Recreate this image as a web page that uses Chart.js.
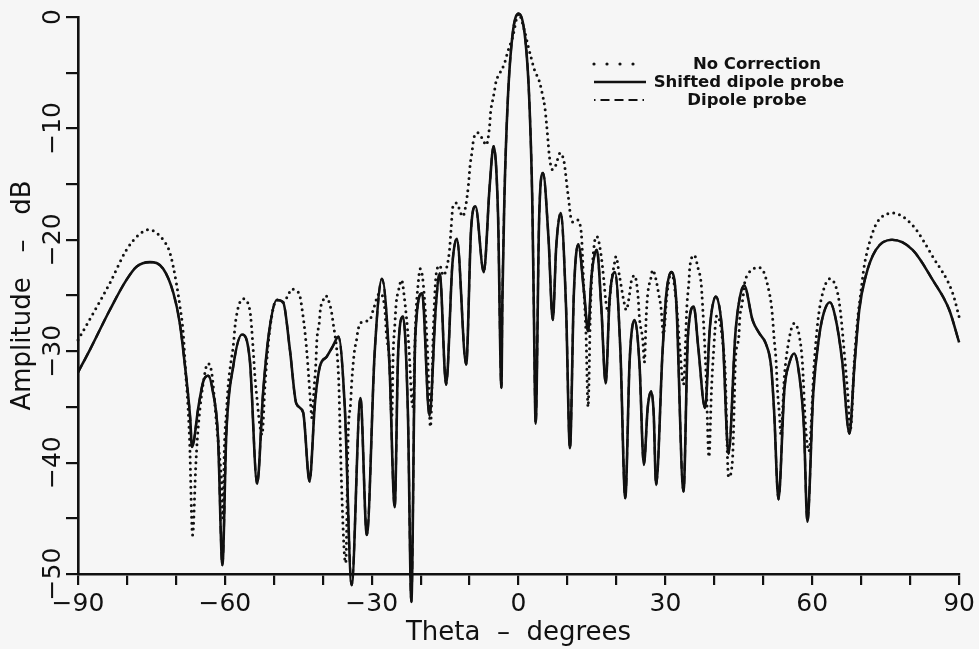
<!DOCTYPE html>
<html>
<head>
<meta charset="utf-8">
<script src="https://cdn.jsdelivr.net/npm/chart.js@4/dist/chart.umd.min.js"></script>
<style>
  html, body { margin: 0; padding: 0; background: #f6f6f6; }
  #wrap { width: 979px; height: 649px; }
</style>
</head>
<body>
<div id="wrap"><canvas id="c" width="979" height="649"></canvas></div>
<script>
// ---- Data (theta in degrees, amplitude in dB) ----
const seriesLabels = ["No Correction", "Shifted dipole probe", "Dipole probe"];

const noCorrTheta = [-90,-86.9,-83.5,-80.1,-77.7,-75.6,-72.6,-71.2,-69.9,-69.2,-68.5,-68.0,-67.6,-67.2,-66.6,-65.9,-65.4,-64.1,-63.5,-62.7,-61.7,-61.2,-60.7,-60.4,-60.1,-59.7,-59.3,-58.8,-58.3,-57.8,-56.3,-54.9,-54.2,-53.9,-53.4,-52.9,-52.4,-51.8,-50.8,-49.4,-48.1,-47.0,-46.4,-45.4,-44.7,-44.1,-43.7,-43.3,-42.9,-42.5,-42.2,-41.8,-41.4,-41.2,-40.7,-40.5,-39.9,-39.4,-38.7,-38.2,-37.9,-37.0,-36.7,-36.5,-36.2,-35.6,-35.3,-34.8,-34.3,-34.1,-33.8,-33.5,-33.1,-32.8,-32.1,-30.4,-29.7,-28.4,-27.3,-27.0,-26.3,-25.9,-25.6,-25.3,-25.0,-24.5,-23.9,-23.3,-22.5,-21.6,-21.0,-20.5,-20.1,-19.5,-18.6,-18.0,-17.4,-16.8,-16.1,-15.4,-14.8,-14.1,-13.8,-13.4,-12.7,-11.4,-10.7,-10.2,-9.9,-9.5,-9.2,-8.3,-7.3,-6.6,-5.9,-5.7,-5.3,-4.9,-4.6,-3.9,-2.9,-2.2,-1.2,0,1.2,1.9,2.6,3.3,4.2,5.0,5.4,5.7,6.0,6.3,6.9,7.6,8.5,9.3,9.6,9.9,10.3,10.6,11.1,11.9,12.8,13.3,13.8,14.2,14.7,15.5,16.0,16.9,17.4,17.8,18.3,18.9,19.6,19.9,20.6,21.6,22.0,22.7,23.0,23.7,24.4,24.7,25.4,25.7,26.1,26.4,27.0,27.4,28.1,28.6,29.1,29.6,30.3,31.2,32.2,33.0,33.7,34.4,34.8,35.0,35.9,36.7,37.3,37.6,38.3,38.9,39.4,39.8,40.5,41.2,41.8,42.2,42.9,43.7,44.1,44.3,45.0,45.2,45.6,45.9,46.1,47.0,48.0,49.2,50.2,51.2,51.6,51.9,52.2,52.6,52.9,53.3,53.6,54.3,55.2,56.3,57.3,58.0,58.6,59.3,60.4,61.1,61.8,63.6,65.2,65.8,66.5,67.2,67.8,68.6,69.3,69.9,70.6,71.3,72.3,73.3,76.4,80.5,84.6,88.7,90];
const noCorrDb = [-29.0,-26.6,-23.9,-20.9,-19.6,-19.1,-20.0,-21.2,-23.9,-25.9,-28.4,-32.0,-34.4,-38.0,-46.5,-39.9,-36.6,-32.0,-31.1,-31.9,-36.5,-38.9,-41.6,-45.0,-38.7,-35.6,-33.0,-31.1,-29.6,-27.3,-25.3,-26.3,-29.9,-32.0,-34.4,-36.5,-37.5,-33.0,-28.0,-25.4,-25.6,-24.9,-24.4,-24.6,-25.0,-26.6,-28.0,-29.8,-32.1,-34.6,-36.0,-33.5,-31.0,-29.0,-27.4,-26.3,-25.4,-25.0,-25.6,-26.5,-27.4,-30.6,-33.1,-36.5,-41.4,-48.1,-49.0,-37.4,-34.6,-32.9,-31.2,-29.9,-29.0,-28.1,-27.4,-27.2,-26.3,-24.8,-26.3,-28.4,-31.2,-36.0,-30.0,-27.8,-25.7,-24.5,-23.6,-25.3,-29.0,-35.0,-27.0,-23.9,-22.6,-23.8,-30.0,-36.8,-28.0,-23.0,-22.3,-23.2,-22.7,-20.9,-19.1,-17.0,-16.7,-17.9,-16.7,-14.9,-13.3,-12.1,-11.0,-10.4,-11.0,-11.5,-9.7,-8.5,-7.5,-6.6,-5.8,-5.1,-4.2,-3.1,-1.8,0.3,-1.2,-2.5,-3.7,-4.8,-5.7,-7.2,-8.2,-9.5,-11.0,-12.5,-13.7,-13.3,-12.2,-13.0,-14.0,-15.2,-16.6,-17.8,-18.4,-18.2,-19.3,-24.0,-28.7,-35.0,-26.0,-20.3,-19.7,-21.5,-23.5,-25.4,-26.5,-24.0,-22.1,-21.5,-23.2,-25.7,-26.3,-24.8,-23.8,-23.2,-25.0,-27.0,-29.1,-31.0,-26.7,-24.8,-23.5,-22.7,-23.6,-24.8,-26.1,-28.5,-25.0,-22.9,-25.5,-30.0,-33.0,-25.9,-23.8,-22.4,-21.4,-22.6,-23.9,-25.9,-32.0,-39.5,-33.6,-30.3,-26.8,-27.5,-29.6,-31.7,-41.3,-39.8,-34.1,-30.8,-28.7,-27.0,-25.9,-25.0,-24.1,-23.0,-22.6,-22.5,-23.0,-24.7,-25.7,-27.0,-28.8,-30.8,-33.5,-35.7,-37.5,-32.3,-29.1,-27.5,-28.5,-31.1,-36.5,-39.0,-31.1,-27.5,-25.4,-23.5,-24.8,-26.6,-29.9,-33.5,-37.0,-30.8,-27.0,-24.8,-22.4,-20.9,-19.4,-18.4,-17.6,-18.7,-21.5,-24.8,-26.9];

const probeTheta = [-90,-87.6,-83.5,-80.1,-78.0,-75.3,-72.6,-70.5,-69.2,-68.2,-67.1,-66.7,-65.4,-64.4,-63.4,-62.5,-61.4,-60.5,-59.7,-58.3,-56.5,-54.9,-53.4,-52.2,-51.0,-49.4,-48.1,-46.7,-45.4,-44.0,-42.7,-41.6,-40.6,-39.2,-38.0,-36.8,-35.5,-34.1,-32.3,-31.0,-29.4,-27.9,-26.4,-25.3,-24.6,-23.6,-22.6,-21.9,-21.1,-19.7,-18.2,-16.9,-16.1,-14.8,-13.5,-12.6,-10.7,-9.7,-8.8,-7.1,-5.9,-5.1,-4.2,-3.5,-3.3,-2.9,-2.2,-1.2,0,1.4,2.2,2.8,3.1,3.5,4.2,5.0,6.1,7.0,7.7,8.6,9.7,10.5,11.3,12.2,13.4,14.2,14.9,16.0,16.9,17.8,18.6,19.7,20.8,21.8,22.7,23.7,24.7,25.6,26.4,27.1,27.6,28.1,29.4,30.2,31.2,32.2,33.7,34.6,35.8,36.7,38.1,39.1,40.3,41.7,42.9,44.3,45.2,46.1,47.8,49.2,50.5,51.6,52.2,53.1,54.3,55.3,56.3,57.3,58.3,59.0,60.2,61.4,62.4,63.6,64.7,66.1,67.6,68.6,69.6,70.9,73.0,76.3,80.5,84.6,88.0,90];
const shiftedDb = [-31.9,-29.9,-26.3,-23.6,-22.4,-22.0,-22.6,-24.8,-27.5,-31.1,-35.9,-38.6,-35.0,-32.7,-32.2,-33.5,-37.7,-49.2,-37.4,-31.4,-28.5,-30.8,-41.9,-33.8,-28.4,-25.4,-25.6,-29.9,-34.7,-35.5,-41.7,-34.7,-31.4,-30.5,-29.6,-28.7,-35.0,-51.0,-34.2,-46.5,-30.2,-23.5,-31.0,-44.0,-30.2,-26.9,-35.6,-52.5,-28.7,-24.8,-35.8,-26.0,-23.0,-33.0,-22.1,-19.9,-31.2,-19.1,-17.0,-22.9,-15.2,-11.6,-17.6,-33.3,-25.4,-16.4,-7.5,-1.5,0.3,-2.1,-7.5,-16.4,-25.4,-36.5,-18.2,-14.0,-19.7,-27.2,-20.6,-17.6,-26.0,-38.7,-24.8,-20.4,-24.8,-28.2,-23.3,-20.9,-26.0,-32.9,-25.4,-22.9,-29.9,-43.2,-30.8,-27.2,-31.1,-40.2,-35.0,-33.6,-35.5,-42.0,-30.2,-24.8,-22.9,-25.4,-42.6,-28.7,-26.0,-29.6,-35.1,-27.8,-25.1,-28.7,-39.2,-28.4,-25.2,-24.1,-27.2,-28.4,-29.3,-31.4,-35.3,-43.3,-33.5,-31.1,-30.2,-32.0,-36.8,-45.3,-33.8,-28.7,-26.5,-25.6,-26.9,-30.8,-37.4,-31.4,-26.3,-23.3,-20.9,-20.0,-20.9,-23.6,-26.3,-29.2];
const dipoleDb = [-31.9,-29.9,-26.3,-23.6,-22.4,-22.0,-22.6,-24.8,-27.5,-31.1,-35.9,-38.6,-35.0,-32.7,-32.2,-33.5,-37.7,-49.2,-37.4,-31.4,-28.5,-30.8,-41.9,-33.8,-28.4,-25.4,-25.6,-29.9,-34.7,-35.5,-41.7,-34.7,-31.4,-30.5,-29.6,-28.7,-35.0,-51.0,-34.2,-46.5,-30.2,-23.5,-31.0,-44.0,-30.2,-26.9,-35.6,-52.5,-28.7,-24.8,-35.8,-26.0,-23.0,-33.0,-22.1,-19.9,-31.2,-19.1,-17.0,-22.9,-15.2,-11.6,-17.6,-33.3,-25.4,-16.4,-7.5,-1.5,0.3,-2.1,-7.5,-16.4,-25.4,-36.5,-18.2,-14.0,-19.7,-27.2,-20.6,-17.6,-26.0,-38.7,-24.8,-20.4,-24.8,-28.2,-23.3,-20.9,-26.0,-32.9,-25.4,-22.9,-29.9,-43.2,-30.8,-27.2,-31.1,-40.2,-35.0,-33.6,-35.5,-42.0,-30.2,-24.8,-22.9,-25.4,-42.6,-28.7,-26.0,-29.6,-35.1,-27.8,-25.1,-28.7,-39.2,-28.4,-25.2,-24.1,-27.2,-28.4,-29.3,-31.4,-35.3,-43.3,-33.5,-31.1,-30.2,-32.0,-36.8,-45.3,-33.8,-28.7,-26.5,-25.6,-26.9,-30.8,-37.4,-31.4,-26.3,-23.3,-20.9,-20.0,-20.9,-23.6,-26.3,-29.2];

const xLabelTicks = [-90, -60, -30, 0, 30, 60, 90];
const yLabelTicks = [0, -10, -20, -30, -40, -50];
const xTitle = "Theta  \u2013  degrees";
const yTitle = "Amplitude   \u2013   dB";

function pairs(xs, ys) { return xs.map((x, i) => ({ x: x, y: ys[i] })); }
function fmt(v) { return v < 0 ? "\u2212" + Math.abs(v) : String(v); }

const FONT = "'DejaVu Sans', sans-serif";
const legendCenters = [757, 749, 747];

const legendPlugin = {
  id: 'customLegend',
  afterDatasetsDraw(chart) {
    const ctx = chart.ctx;
    ctx.save();
    [0, 1, 2].forEach((di, row) => {
      const ds = chart.data.datasets[di];
      const y = 64 + row * 18;
      ctx.beginPath();
      ctx.strokeStyle = ds.borderColor;
      ctx.lineWidth = ds.legendWidth || ds.borderWidth;
      ctx.lineCap = ds.borderCapStyle || 'butt';
      ctx.setLineDash(ds.legendDash || ds.borderDash || []);
      ctx.moveTo(594, y);
      ctx.lineTo(646, y);
      ctx.stroke();
      ctx.setLineDash([]);
      ctx.fillStyle = '#111';
      ctx.font = "bold 16.5px " + FONT;
      ctx.textAlign = 'center';
      ctx.textBaseline = 'middle';
      ctx.fillText(ds.label, legendCenters[row], y + 1);
    });
    ctx.restore();
  }
};

const ctx = document.getElementById('c').getContext('2d');
new Chart(ctx, {
  type: 'line',
  data: {
    datasets: [
      {
        label: seriesLabels[0],
        data: pairs(noCorrTheta, noCorrDb),
        borderColor: '#111',
        borderWidth: 3,
        borderDash: [0, 6],
        borderCapStyle: 'round',
        legendDash: [0, 13],
        legendWidth: 3.2,
        pointRadius: 0,
        cubicInterpolationMode: 'monotone',
        fill: false,
        clip: { left: 2, top: 10, right: 2, bottom: 30 }
      },
      {
        label: seriesLabels[1],
        data: pairs(probeTheta, shiftedDb),
        borderColor: '#111',
        borderWidth: 2.6,
        pointRadius: 0,
        cubicInterpolationMode: 'monotone',
        fill: false,
        clip: { left: 2, top: 10, right: 2, bottom: 30 }
      },
      {
        label: seriesLabels[2],
        data: pairs(probeTheta, dipoleDb),
        borderColor: '#111',
        borderWidth: 2.2,
        borderDash: [8, 5],
        legendDash: [1.5, 5, 9, 5, 9, 5, 9, 5],
        pointRadius: 0,
        cubicInterpolationMode: 'monotone',
        fill: false,
        clip: { left: 2, top: 10, right: 2, bottom: 30 }
      }
    ]
  },
  options: {
    responsive: false,
    animation: false,
    devicePixelRatio: 1,
    layout: { padding: { left: 0, top: 17, right: 18, bottom: 0 } },
    plugins: { legend: { display: false }, tooltip: { enabled: false } },
    scales: {
      x: {
        type: 'linear',
        min: -90, max: 90,
        afterFit(scale) { scale.height = 75; },
        afterBuildTicks(scale) {
          const t = [];
          for (let v = -90; v <= 90; v += 10) t.push({ value: v });
          scale.ticks = t;
        },
        ticks: {
          autoSkip: false,
          maxRotation: 0, minRotation: 0,
          color: '#111',
          padding: 4,
          font: { family: FONT, size: 25 },
          callback: (v) => xLabelTicks.includes(v) ? fmt(v) : ''
        },
        grid: { display: true, drawOnChartArea: false, drawTicks: true, tickLength: 11, color: '#111', lineWidth: 2.2 },
        border: { display: true, color: '#111', width: 2.6 },
        title: { display: true, text: xTitle, color: '#111', font: { family: FONT, size: 26 }, padding: { top: 0, bottom: 0 } }
      },
      y: {
        type: 'linear',
        min: -50, max: 0,
        afterFit(scale) { scale.width = 78; },
        afterBuildTicks(scale) {
          const t = [];
          for (let v = -50; v <= 0; v += 5) t.push({ value: v });
          scale.ticks = t;
        },
        ticks: {
          autoSkip: false,
          minRotation: 90, maxRotation: 90,
          crossAlign: 'center',
          color: '#111',
          padding: -14,
          font: { family: FONT, size: 25 },
          callback: (v) => yLabelTicks.includes(v) ? fmt(v) : ''
        },
        grid: { display: true, drawOnChartArea: false, drawTicks: true, tickLength: 12, color: '#111', lineWidth: 2.2 },
        border: { display: true, color: '#111', width: 2.6 },
        title: { display: true, text: yTitle, color: '#111', font: { family: FONT, size: 26 }, padding: { top: 8, bottom: 0 } }
      }
    }
  },
  plugins: [legendPlugin]
});
</script>
</body>
</html>
